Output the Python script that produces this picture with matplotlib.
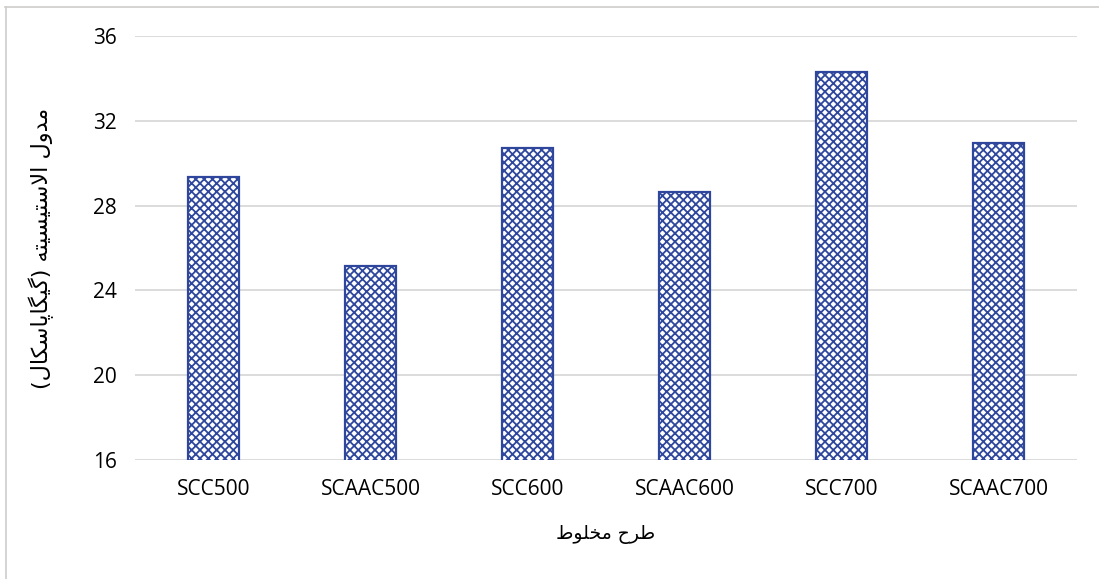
import matplotlib
matplotlib.use("Agg")
import matplotlib.pyplot as plt
from matplotlib.lines import Line2D

# Mix designs and elastic modulus (GPa)
categories = ["SCC500", "SCAAC500", "SCC600", "SCAAC600", "SCC700", "SCAAC700"]
modulus = [29.35, 25.15, 30.7, 28.65, 34.3, 30.95]
y_ticks = [16, 20, 24, 28, 32, 36]

x_title = "طرح مخلوط"
y_title = "مدول الاستیسیته (گیگاپاسکال)"

# Minimal Arabic/Persian shaping: contextual presentation forms + RTL order
FORMS = {
    "ا": ("\uFE8D", "\uFE8E", None, None),
    "د": ("\uFEA9", "\uFEAA", None, None),
    "ر": ("\uFEAD", "\uFEAE", None, None),
    "و": ("\uFEED", "\uFEEE", None, None),
    "ل": ("\uFEDD", "\uFEDE", "\uFEDF", "\uFEE0"),
    "م": ("\uFEE1", "\uFEE2", "\uFEE3", "\uFEE4"),
    "س": ("\uFEB1", "\uFEB2", "\uFEB3", "\uFEB4"),
    "ت": ("\uFE95", "\uFE96", "\uFE97", "\uFE98"),
    "ه": ("\uFEE9", "\uFEEA", "\uFEEB", "\uFEEC"),
    "ط": ("\uFEC1", "\uFEC2", "\uFEC3", "\uFEC4"),
    "ح": ("\uFEA1", "\uFEA2", "\uFEA3", "\uFEA4"),
    "خ": ("\uFEA5", "\uFEA6", "\uFEA7", "\uFEA8"),
    "ی": ("\uFBFC", "\uFBFD", "\uFBFE", "\uFBFF"),
    "گ": ("\uFB92", "\uFB93", "\uFB94", "\uFB95"),
    "ک": ("\uFB8E", "\uFB8F", "\uFB90", "\uFB91"),
    "پ": ("\uFB56", "\uFB57", "\uFB58", "\uFB59"),
}
LAM_ALEF = ("\uFEFB", "\uFEFC")


def dual(ch):
    return ch in FORMS and FORMS[ch][2] is not None


def shape(text):
    # merge lam + alef into a single unit
    units = []
    i = 0
    while i < len(text):
        if text[i] == "ل" and i + 1 < len(text) and text[i + 1] == "ا":
            units.append("LA")
            i += 2
        else:
            units.append(text[i])
            i += 1
    out = []
    for k, u in enumerate(units):
        prev = units[k - 1] if k > 0 else None
        nxt = units[k + 1] if k + 1 < len(units) else None
        joins_prev = prev is not None and prev != "LA" and dual(prev)
        if u == "LA":
            out.append(LAM_ALEF[1] if joins_prev else LAM_ALEF[0])
            continue
        if u not in FORMS:
            out.append(u)
            continue
        iso, fin, ini, med = FORMS[u]
        joins_next = dual(u) and nxt is not None and (nxt == "LA" or nxt in FORMS)
        if joins_prev and joins_next:
            out.append(med)
        elif joins_prev:
            out.append(fin)
        elif joins_next:
            out.append(ini)
        else:
            out.append(iso)
    vis = "".join(reversed(out))
    return vis.translate(str.maketrans({"(": ")", ")": "("}))


plt.rcParams["font.family"] = ["Open Sans", "DejaVu Sans"]
plt.rcParams["hatch.linewidth"] = 1.3
plt.rcParams["hatch.color"] = "#3A52A3"

fig = plt.figure(figsize=(10.99, 5.79), dpi=100)
ax = fig.add_axes([0.1228, 0.2055, 0.8572, 0.7323])

x = range(len(categories))
ax.bar(x, modulus, width=0.325, bottom=0, color="white", edgecolor="#2E479C",
       linewidth=1.6, hatch="xxxx", zorder=3)

ax.set_ylim(16, 36)
ax.set_xlim(-0.5, len(categories) - 0.5)
ax.set_yticks(y_ticks)
ax.set_xticks(list(x))
ax.set_xticklabels(categories)
ax.yaxis.grid(True, color="#D9D9D9", linewidth=1.3, zorder=0)
ax.set_axisbelow(True)
for s in ax.spines.values():
    s.set_visible(False)
ax.tick_params(axis="both", length=0, labelsize=15, colors="#000000")
ax.tick_params(axis="x", pad=14)
ax.tick_params(axis="y", pad=13)

ax.set_xlabel(shape(x_title), family=["DejaVu Sans"], fontsize=13.5, labelpad=18)
ax.set_ylabel(shape(y_title), family=["DejaVu Sans"], fontsize=16, labelpad=28)

# chart area frame (top and left edges)
fig.add_artist(Line2D([0.005, 1.0], [1 - 7 / 579, 1 - 7 / 579], transform=fig.transFigure,
                      color="#D0CCCC", linewidth=1.2))
fig.add_artist(Line2D([5.5 / 1099, 5.5 / 1099], [0, 1 - 7 / 579], transform=fig.transFigure,
                      color="#D0CCCC", linewidth=1.2))

fig.savefig("out.png", dpi=100)
